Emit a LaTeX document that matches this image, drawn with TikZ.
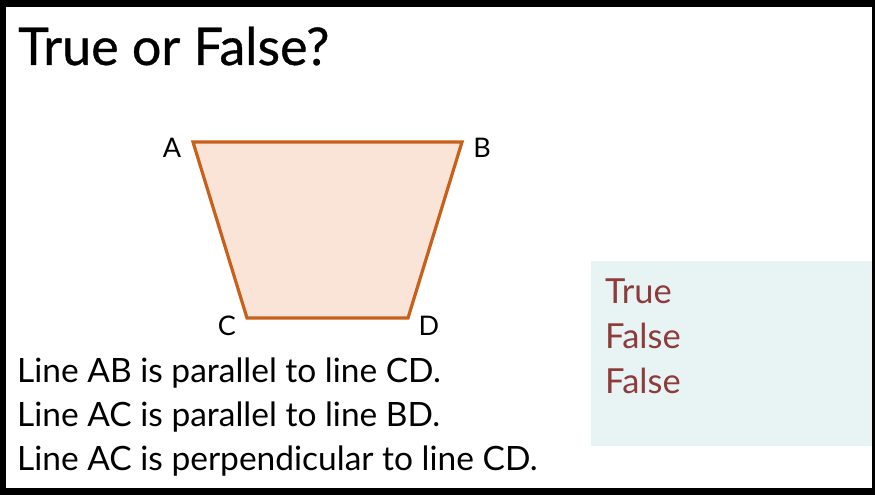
\documentclass[tikz,border=0pt]{standalone}
\usepackage{fontspec}
\setmainfont{Lato}
\newfontfamily\headfont[FakeBold=0.6]{Lato}
\usetikzlibrary{positioning}
\definecolor{tfline}{HTML}{C8601C}
\definecolor{tffill}{HTML}{FAE4D8}
\definecolor{tfteal}{HTML}{E8F4F4}
\definecolor{tfred}{HTML}{8E3B3B}

\begin{document}
\begin{tikzpicture}[
  x=1pt, y=-1pt,
  title/.style={anchor=base west, inner sep=0pt, font=\fontsize{52}{60}\selectfont\headfont},
  stmt/.style={anchor=base west, inner sep=0pt, font=\fontsize{33.5}{40}\selectfont},
  answer/.style={anchor=base west, inner sep=0pt, text=tfred, font=\fontsize{34.5}{40}\selectfont},
  vlabel/.style={inner sep=0pt, font=\fontsize{27}{32}\selectfont},
  trap/.style={draw=tfline, fill=tffill, line width=3.2pt, line join=miter}
]
% frame
\fill[black] (0,0) rectangle (875,495);
\fill[white] (6,7) rectangle (872,488);
\useasboundingbox (0,0) rectangle (875,495);
\node[title] (head) at (18,65) {True or False?};
% trapezium
\coordinate (A) at (193,142);
\coordinate (B) at (462,142);
\coordinate (C) at (247,318);
\coordinate (D) at (408,318);
\draw[trap] (A) -- (B) -- (D) -- (C) -- cycle;
\node[vlabel] (la) at (172,148) {A};
\node[vlabel] (lb) at (482,148) {B};
\node[vlabel] (lc) at (227,326) {C};
\node[vlabel] (ld) at (429,326) {D};
% statements
\node[stmt] (s1) at (17,382) {Line AB is parallel to line CD.};
\node[stmt] (s2) at (17,426) {Line AC is parallel to line BD.};
\node[stmt] (s3) at (17,470) {Line AC is perpendicular to line CD.};
% answers
\fill[tfteal] (591,261) rectangle (872,446);
\node[answer] (a1) at (605,303) {True};
\node[answer] (a2) at (605,348) {False};
\node[answer] (a3) at (605,393) {False};
\end{tikzpicture}
\end{document}
